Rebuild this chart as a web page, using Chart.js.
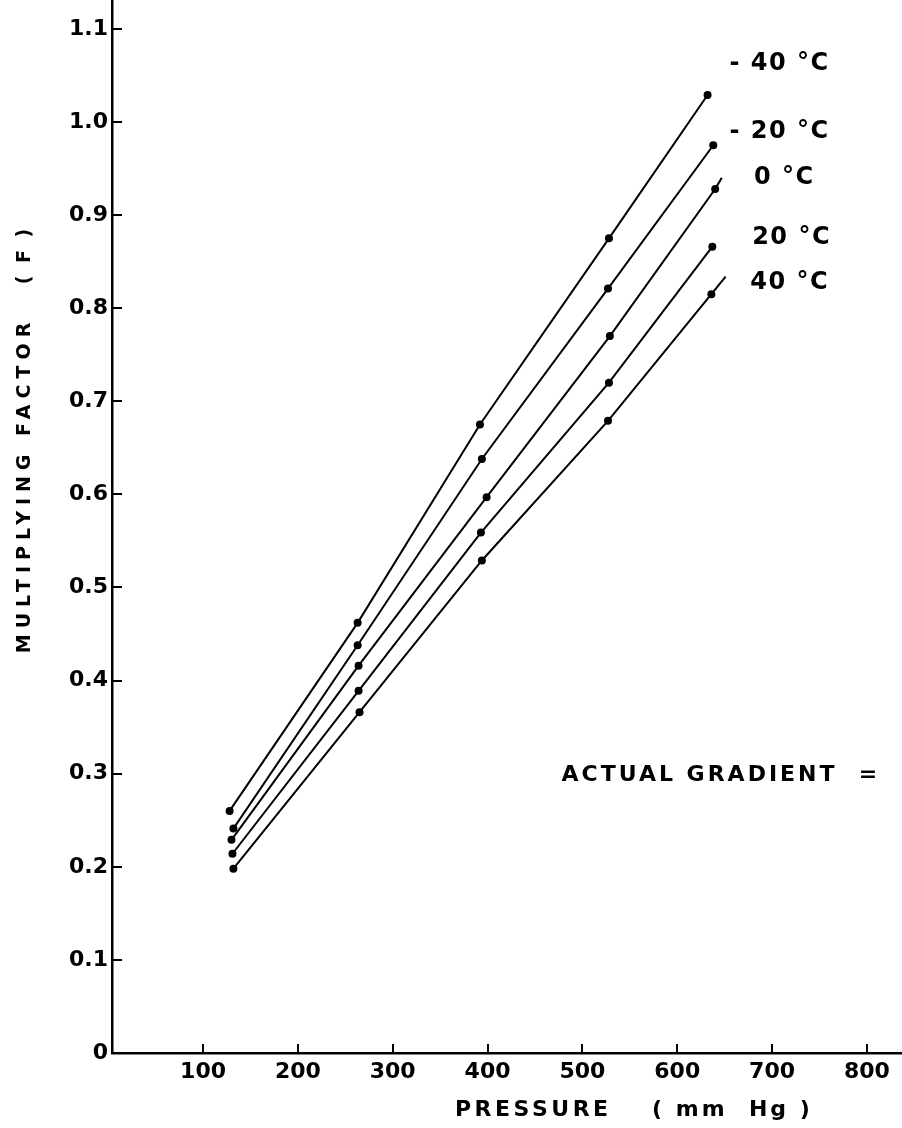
<!DOCTYPE html>
<html>
<head>
<meta charset="utf-8">
<script src="https://cdn.jsdelivr.net/npm/chart.js@4.4.0/dist/chart.umd.min.js"></script>
<style>
  html, body { margin: 0; padding: 0; background: #fff; }
  canvas { display: block; }
</style>
</head>
<body>
<canvas id="chart" width="902" height="1128"></canvas>
<script>
// values: pressure (mm Hg) and multiplying factor F
// the last pair of 0 C and 40 C is where the drawn line stops past the last dot
const pressM40 = [128, 263, 392, 528, 632];
const factorM40 = [0.260, 0.462, 0.675, 0.875, 1.029];
const pressM20 = [132, 263, 394, 527, 638];
const factorM20 = [0.241, 0.438, 0.638, 0.821, 0.975];
const press0 = [130, 264, 399, 529, 640, 647];
const factor0 = [0.229, 0.416, 0.597, 0.770, 0.928, 0.940];
const press20 = [131, 264, 393, 528, 637];
const factor20 = [0.214, 0.389, 0.559, 0.720, 0.866];
const press40 = [132, 265, 394, 527, 636, 651];
const factor40 = [0.198, 0.366, 0.529, 0.679, 0.815, 0.834];

const xTicks = [100, 200, 300, 400, 500, 600, 700, 800];
const yTicks = [0, 0.1, 0.2, 0.3, 0.4, 0.5, 0.6, 0.7, 0.8, 0.9, 1.0, 1.1];

const curveLabels = ['- 40 °C', '- 20 °C', '0 °C', '20 °C', '40 °C'];

const FONT = "'DejaVu Sans', sans-serif";

function toPoints(xs, ys) {
    return xs.map((x, i) => ({ x: x, y: ys[i] }));
}

function dotRadius(xs, nDots) {
    return xs.map((_, i) => (i < nDots ? 4 : 0));
}

function lineSet(xs, ys, nDots) {
    return {
        data: toPoints(xs, ys),
        showLine: true,
        borderColor: '#000',
        borderWidth: 2,
        backgroundColor: '#000',
        pointBackgroundColor: '#000',
        pointBorderWidth: 0,
        pointRadius: dotRadius(xs, nDots),
        tension: 0
    };
}

// text placed in data units so it follows the axes
const labelSpots = [
    { x: 655, y: 1.063 },
    { x: 655, y: 0.990 },
    { x: 681, y: 0.940 },
    { x: 679, y: 0.876 },
    { x: 677, y: 0.827 }
];

const annotate = {
    id: 'annotate',
    afterDraw(chart) {
        const { ctx, chartArea, scales } = chart;
        const xs = scales.x, ys = scales.y;
        ctx.save();

        // tick marks point into the plot
        ctx.strokeStyle = '#000';
        ctx.lineWidth = 2;
        ctx.beginPath();
        ys.ticks.forEach(t => {
            if (t.value === 0) return;
            const py = Math.round(ys.getPixelForValue(t.value));
            ctx.moveTo(chartArea.left, py);
            ctx.lineTo(chartArea.left + 10, py);
        });
        xs.ticks.forEach(t => {
            const px = Math.round(xs.getPixelForValue(t.value));
            ctx.moveTo(px, chartArea.bottom);
            ctx.lineTo(px, chartArea.bottom - 9);
        });
        ctx.stroke();

        ctx.fillStyle = '#000';
        ctx.textBaseline = 'middle';
        ctx.textAlign = 'left';

        // temperature labels
        ctx.font = 'bold 24px ' + FONT;
        ctx.letterSpacing = '1.5px';
        curveLabels.forEach((txt, i) => {
            const s = labelSpots[i];
            ctx.fillText(txt, xs.getPixelForValue(s.x), ys.getPixelForValue(s.y));
        });

        ctx.font = 'bold 22px ' + FONT;
        ctx.letterSpacing = '3px';
        ctx.fillText('ACTUAL GRADIENT  =', xs.getPixelForValue(478), ys.getPixelForValue(0.2986));

        // x title
        ctx.letterSpacing = '3.5px';
        ctx.fillText('PRESSURE', 455, 1110);
        ctx.letterSpacing = '3px';
        ctx.fillText('( mm  Hg )', 652, 1110);

        // y title, read from bottom to top
        ctx.translate(25, 0);
        ctx.rotate(-Math.PI / 2);
        ctx.textAlign = 'center';
        ctx.font = 'bold 19px ' + FONT;
        ctx.letterSpacing = '6px';
        ctx.fillText('MULTIPLYING FACTOR', -485, 0);
        ctx.letterSpacing = '3px';
        ctx.fillText('( F )', -255, 0);

        ctx.restore();
    }
};

new Chart(document.getElementById('chart'), {
    type: 'scatter',
    data: {
        datasets: [
            lineSet(pressM40, factorM40, 5),
            lineSet(pressM20, factorM20, 5),
            lineSet(press0, factor0, 5),
            lineSet(press20, factor20, 5),
            lineSet(press40, factor40, 5)
        ]
    },
    options: {
        responsive: false,
        animation: false,
        layout: { padding: 0, autoPadding: false },
        plugins: {
            legend: { display: false },
            tooltip: { enabled: false }
        },
        scales: {
            x: {
                type: 'linear',
                min: 4,
                max: 837,
                afterBuildTicks: s => { s.ticks = xTicks.map(v => ({ value: v })); },
                afterFit: s => { s.height = 75; s.paddingLeft = 0; s.paddingRight = 0; },
                grid: { display: false, drawTicks: false },
                border: { display: true, color: '#000', width: 2.5 },
                ticks: {
                    color: '#000',
                    padding: 6,
                    maxRotation: 0,
                    font: { family: FONT, size: 22, weight: 'bold' }
                }
            },
            y: {
                type: 'linear',
                min: 0,
                max: 1.131,
                afterBuildTicks: s => { s.ticks = yTicks.map(v => ({ value: v })); },
                afterFit: s => { s.width = 112; s.paddingTop = 0; s.paddingBottom = 0; },
                grid: { display: false, drawTicks: false },
                border: { display: true, color: '#000', width: 2.5 },
                ticks: {
                    color: '#000',
                    padding: 4,
                    font: { family: FONT, size: 22, weight: 'bold' },
                    callback: v => (v === 0 ? '0' : v.toFixed(1))
                }
            }
        }
    },
    plugins: [annotate]
});
</script>
</body>
</html>
